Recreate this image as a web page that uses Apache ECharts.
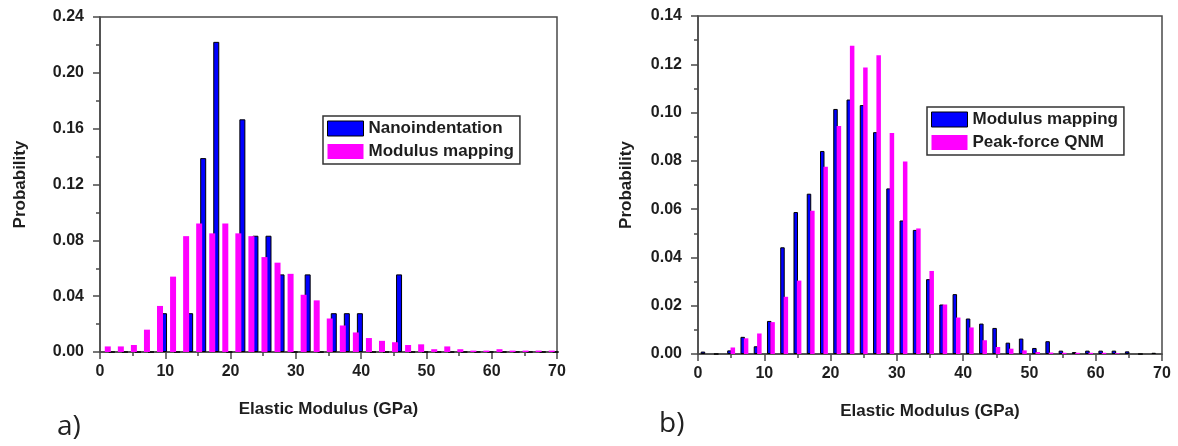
<!DOCTYPE html>
<html>
<head>
<meta charset="utf-8">
<script src="https://cdn.jsdelivr.net/npm/echarts@6/dist/echarts.min.js"></script>
<style>
html,body{margin:0;padding:0;background:#fff;}
#chart{width:1178px;height:446px;}
</style>
</head>
<body>
<div id="chart"></div>
<script>
// ---- Panel a) data ----
const binsA = [1.5,3.5,5.5,7.5,9.5,11.5,13.5,15.5,17.5,19.5,21.5,23.5,25.5,27.5,29.5,31.5,33.5,35.5,37.5,39.5,41.5,43.5,45.5,47.5,49.5,51.5,53.5,55.5,57.5,59.5,61.5,63.5,65.5,67.5,69.5];
const nanoA = [0,0,0,0,0.0278,0,0.0278,0.1389,0.2222,0,0.1667,0.0833,0.0833,0.0556,0,0.0556,0,0.0278,0.0278,0.0278,0,0,0.0556,0,0,0,0,0,0,0,0,0,0,0,0];
const mapA  = [0.004,0.004,0.005,0.016,0.033,0.054,0.083,0.092,0.085,0.092,0.085,0.083,0.068,0.064,0.056,0.041,0.037,0.024,0.019,0.014,0.010,0.008,0.007,0.005,0.0055,0.002,0.004,0.002,0.001,0.001,0.002,0.001,0.001,0.001,0.001];

// ---- Panel b) data ----
const binsB = [1,3,5,7,9,11,13,15,17,19,21,23,25,27,29,31,33,35,37,39,41,43,45,47,49,51,53,55,57,59,61,63,65,67,69];
const mapB  = [0.001,0,0.0015,0.0071,0.0032,0.0137,0.0442,0.0588,0.0664,0.0841,0.1015,0.1054,0.1031,0.0919,0.0686,0.0553,0.0514,0.031,0.0205,0.0248,0.0147,0.0126,0.0108,0.0047,0.0064,0.0025,0.0053,0.0014,0.0008,0.0014,0.0014,0.0014,0.0011,0,0.0005];
const qnmB  = [0,0,0.0027,0.0065,0.0085,0.0132,0.0237,0.0304,0.0593,0.0776,0.0944,0.1277,0.1187,0.1237,0.0915,0.0797,0.052,0.0344,0.0205,0.0151,0.011,0.0057,0.0029,0.0022,0.0015,0.0008,0.0006,0.0005,0.0005,0.0005,0.0005,0.0003,0,0,0];

const xTicks = {min:0, max:70, interval:10};
const yA = {min:0, max:0.24, interval:0.04};
const yB = {min:0, max:0.14, interval:0.02};

const FONT = '"Liberation Sans", Arial, sans-serif';
const AX = '#4a4a4a';
const TXT = '#1e1e1e';
const BLUE = '#0000ff';
const PINK = '#ff00ff';

function pairs(xs, ys){ return xs.map((x,i)=>[x, ys[i]]); }

function xAxisCfg(idx){
  return {
    type:'value', gridIndex:idx, min:xTicks.min, max:xTicks.max, interval:xTicks.interval,
    name:'Elastic Modulus (GPa)', nameLocation:'middle', nameGap:49,
    nameTextStyle:{fontFamily:FONT, fontWeight:'bold', fontSize:17, color:TXT},
    axisLine:{show:true, onZero:false, lineStyle:{color:AX, width:1.5}},
    axisTick:{show:true, inside:false, length:7, lineStyle:{color:AX, width:1.5}},
    minorTick:{show:true, splitNumber:2, length:4, lineStyle:{color:AX, width:1.5}},
    axisLabel:{fontFamily:FONT, fontWeight:'bold', fontSize:16, color:TXT, margin:12},
    splitLine:{show:false}
  };
}
function yAxisCfg(idx, r, gap){
  return {
    type:'value', gridIndex:idx, min:r.min, max:r.max, interval:r.interval,
    name:'Probability', nameLocation:'middle', nameGap:gap,
    nameTextStyle:{fontFamily:FONT, fontWeight:'bold', fontSize:17, color:TXT},
    axisLine:{show:true, lineStyle:{color:AX, width:1.5}},
    axisTick:{show:true, inside:false, length:7, lineStyle:{color:AX, width:1.5}},
    minorTick:{show:true, splitNumber:2, length:4, lineStyle:{color:AX, width:1.5}},
    axisLabel:{fontFamily:FONT, fontWeight:'bold', fontSize:16, color:TXT, margin:16,
      formatter:v=>v.toFixed(2)},
    splitLine:{show:false}
  };
}
function legendCfg(left, top, items){
  return {
    orient:'vertical', left:left, top:top, padding:[4,6,4,4], itemGap:6,
    itemWidth:36, itemHeight:15, icon:'rect',
    backgroundColor:'#fff', borderColor:'#333', borderWidth:1.5,
    textStyle:{fontFamily:FONT, fontWeight:'bold', fontSize:17, color:TXT},
    data:items, selectedMode:false
  };
}

const chart = echarts.init(document.getElementById('chart'), null, {renderer:'canvas'});
chart.setOption({
  animation:false,
  backgroundColor:'#fff',
  grid:[
    {left:100, top:17, width:457, height:335, show:true, borderColor:AX, borderWidth:1.5, backgroundColor:'transparent'},
    {left:698, top:16, width:464, height:338, show:true, borderColor:AX, borderWidth:1.5, backgroundColor:'transparent'}
  ],
  xAxis:[xAxisCfg(0), xAxisCfg(1)],
  yAxis:[yAxisCfg(0, yA, 71), yAxisCfg(1, yB, 63)],
  legend:[
    legendCfg(323, 116, [
      {name:'Nanoindentation', itemStyle:{color:BLUE, borderColor:'#000', borderWidth:1}},
      {name:'Modulus mapping', itemStyle:{color:PINK, borderWidth:0}}
    ]),
    legendCfg(927, 107, [
      {name:'Modulus mapping', itemStyle:{color:BLUE, borderColor:'#000', borderWidth:1}},
      {name:'Peak-force QNM', itemStyle:{color:PINK, borderWidth:0}}
    ])
  ],
  graphic:[
    {type:'text', left:57, top:413, style:{text:'a)', fontFamily:'"Open Sans", sans-serif', fontSize:28, fill:'#222'}},
    {type:'text', left:659, top:410, style:{text:'b)', fontFamily:'"Open Sans", sans-serif', fontSize:28, fill:'#222'}}
  ],
  series:[
    {name:'Modulus mapping', type:'bar', xAxisIndex:0, yAxisIndex:0, z:3,
     barWidth:6, barGap:'-33%', data:pairs(binsA, mapA),
     itemStyle:{color:PINK}},
    {name:'Nanoindentation', type:'bar', xAxisIndex:0, yAxisIndex:0, z:2,
     barWidth:6, barGap:'-33%', data:pairs(binsA, nanoA),
     itemStyle:{color:BLUE, borderColor:'#000', borderWidth:1}},
    {name:'Modulus mapping', type:'bar', xAxisIndex:1, yAxisIndex:1, z:2,
     barWidth:4.5, barGap:'-25%', data:pairs(binsB, mapB),
     itemStyle:{color:BLUE, borderColor:'#000', borderWidth:1}},
    {name:'Peak-force QNM', type:'bar', xAxisIndex:1, yAxisIndex:1, z:3,
     barWidth:4.5, barGap:'-25%', data:pairs(binsB, qnmB),
     itemStyle:{color:PINK}}
  ]
});
</script>
</body>
</html>
